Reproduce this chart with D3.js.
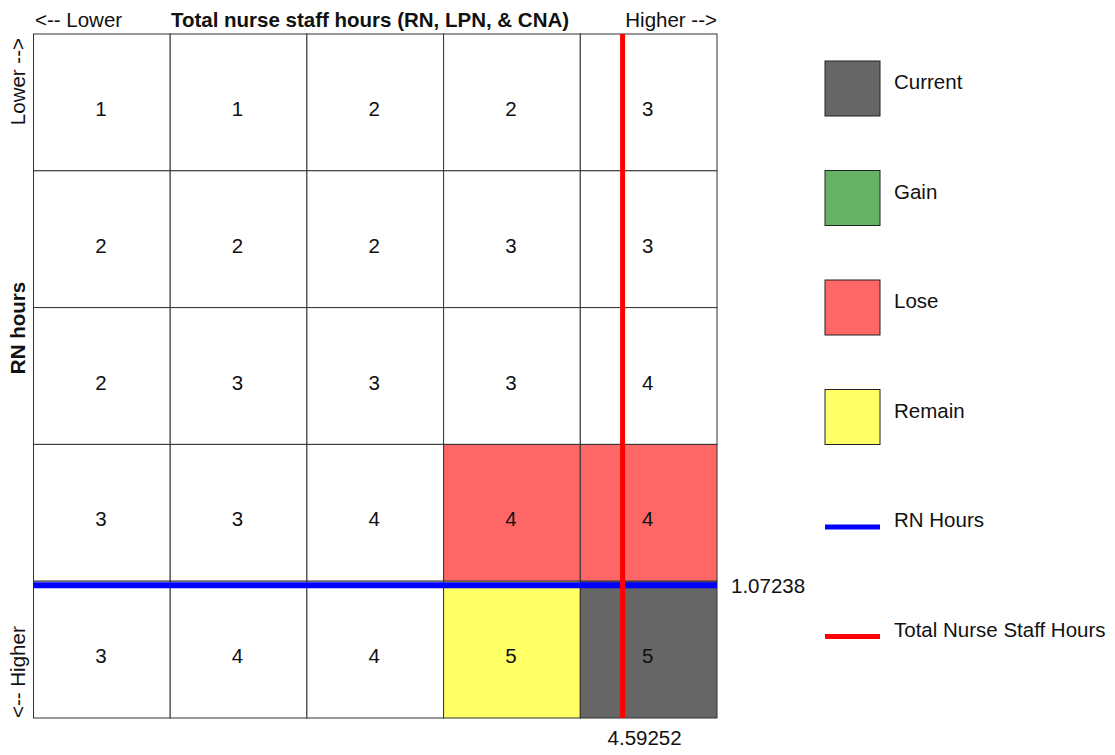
<!DOCTYPE html>
<html>
<head>
<meta charset="utf-8">
<script src="https://cdn.jsdelivr.net/npm/d3@7"></script>
<style>
  body { margin: 0; background: #fff; }
  svg text { font-family: "Liberation Sans", Arial, sans-serif; fill: #111; }
</style>
</head>
<body>
<svg id="chart" width="1115" height="755"></svg>
<script>
// star ratings, rows = RN hours (lower -> higher), cols = total nurse staff hours (lower -> higher)
var ratings = [
  [1, 1, 2, 2, 3],
  [2, 2, 2, 3, 3],
  [2, 3, 3, 3, 4],
  [3, 3, 4, 4, 4],
  [3, 4, 4, 5, 5]
];
// cell status: "" = none
var cellStatus = [
  ["", "", "", "", ""],
  ["", "", "", "", ""],
  ["", "", "", "", ""],
  ["", "", "", "lose", "lose"],
  ["", "", "", "remain", "current"]
];
// bin edges (estimated)
var totalEdges = [2.8, 3.2, 3.6, 4.0, 4.41, 5.0];
var rnEdges = [0.2, 0.4, 0.6, 0.8, 1.05, 1.8];
var rnHours = 1.07238;
var totalHours = 4.59252;

var legendItems = [
  {name: "Current", type: "box", color: "#666666"},
  {name: "Gain", type: "box", color: "#66b266"},
  {name: "Lose", type: "box", color: "#ff6666"},
  {name: "Remain", type: "box", color: "#ffff66"},
  {name: "RN Hours", type: "line", color: "#0000ff"},
  {name: "Total Nurse Staff Hours", type: "line", color: "#ff0000"}
];
var statusColor = {current: "#666666", gain: "#66b266", lose: "#ff6666", remain: "#ffff66"};

var svg = d3.select("#chart");
var fs = "20.5px";
var pLeft = 33.5, pRight = 717, pTop = 34, pBottom = 718;

var col = d3.scaleBand().domain(d3.range(5)).range([pLeft, pRight]);
var row = d3.scaleBand().domain(d3.range(5)).range([pTop, pBottom]);

// piecewise scales for the two marker lines
var x = d3.scaleLinear().domain(totalEdges).range(totalEdges.map(function(d, i) { return pLeft + i * col.bandwidth(); }));
var y = d3.scaleLinear().domain(rnEdges).range(rnEdges.map(function(d, i) { return pTop + i * row.bandwidth(); }));

var cells = [];
ratings.forEach(function(r, i) {
  r.forEach(function(v, j) { cells.push({r: i, c: j, v: v, s: cellStatus[i][j]}); });
});

var g = svg.append("g");
g.selectAll("rect.cell")
  .data(cells)
  .enter()
  .append("rect")
  .attr("class", "cell")
  .attr("x", function(d) { return col(d.c); })
  .attr("y", function(d) { return row(d.r); })
  .attr("width", col.bandwidth())
  .attr("height", row.bandwidth())
  .attr("fill", function(d) { return d.s ? statusColor[d.s] : "#fff"; })
  .attr("stroke", "#333")
  .attr("stroke-width", 1);

g.selectAll("text.val")
  .data(cells)
  .enter()
  .append("text")
  .attr("class", "val")
  .attr("x", function(d) { return col(d.c) + col.bandwidth() / 2 - 1; })
  .attr("y", function(d) { return row(d.r) + row.bandwidth() / 2 + 13.5; })
  .attr("text-anchor", "middle")
  .style("font-size", fs)
  .text(function(d) { return d.v; });

// marker lines
svg.append("line")
  .attr("x1", pLeft).attr("x2", pRight)
  .attr("y1", y(rnHours)).attr("y2", y(rnHours))
  .attr("stroke", "#0000ff").attr("stroke-width", 6);
svg.append("line")
  .attr("x1", x(totalHours)).attr("x2", x(totalHours))
  .attr("y1", pTop).attr("y2", pBottom)
  .attr("stroke", "#ff0000").attr("stroke-width", 5);

svg.append("text")
  .attr("x", pRight + 14).attr("y", y(rnHours) + 8)
  .style("font-size", fs)
  .text(rnHours);
svg.append("text")
  .attr("x", x(totalHours) + 22).attr("y", pBottom + 27)
  .attr("text-anchor", "middle")
  .style("font-size", fs)
  .text(totalHours);

// axis labels
svg.append("text").attr("x", 370).attr("y", 27).attr("text-anchor", "middle")
  .style("font-size", fs).style("font-weight", "bold")
  .text("Total nurse staff hours (RN, LPN, & CNA)");
svg.append("text").attr("x", 35).attr("y", 27)
  .style("font-size", fs).text("<-- Lower");
svg.append("text").attr("x", pRight).attr("y", 27).attr("text-anchor", "end")
  .style("font-size", fs).text("Higher -->");

svg.append("text").attr("transform", "translate(25," + (pTop + 4) + ") rotate(-90)")
  .attr("text-anchor", "end").style("font-size", fs).text("Lower -->");
svg.append("text").attr("transform", "translate(25," + pBottom + ") rotate(-90)")
  .attr("text-anchor", "start").style("font-size", fs).text("<-- Higher");
svg.append("text").attr("transform", "translate(25,328) rotate(-90)")
  .attr("text-anchor", "middle").style("font-size", fs).style("font-weight", "bold")
  .text("RN hours");

// legend
var leg = svg.selectAll("g.legend")
  .data(legendItems)
  .enter()
  .append("g")
  .attr("class", "legend")
  .attr("transform", function(d, i) { return "translate(825," + (61 + i * 109.5) + ")"; });

leg.filter(function(d) { return d.type === "box"; })
  .append("rect")
  .attr("width", 55).attr("height", 55)
  .attr("fill", function(d) { return d.color; })
  .attr("stroke", "#222").attr("stroke-width", 1);
leg.filter(function(d) { return d.type === "line"; })
  .append("line")
  .attr("x1", 0).attr("x2", 55).attr("y1", 28).attr("y2", 28)
  .attr("stroke", function(d) { return d.color; }).attr("stroke-width", 5);
leg.append("text")
  .attr("x", 69).attr("y", 28)
  .style("font-size", fs)
  .text(function(d) { return d.name; });
</script>
</body>
</html>
